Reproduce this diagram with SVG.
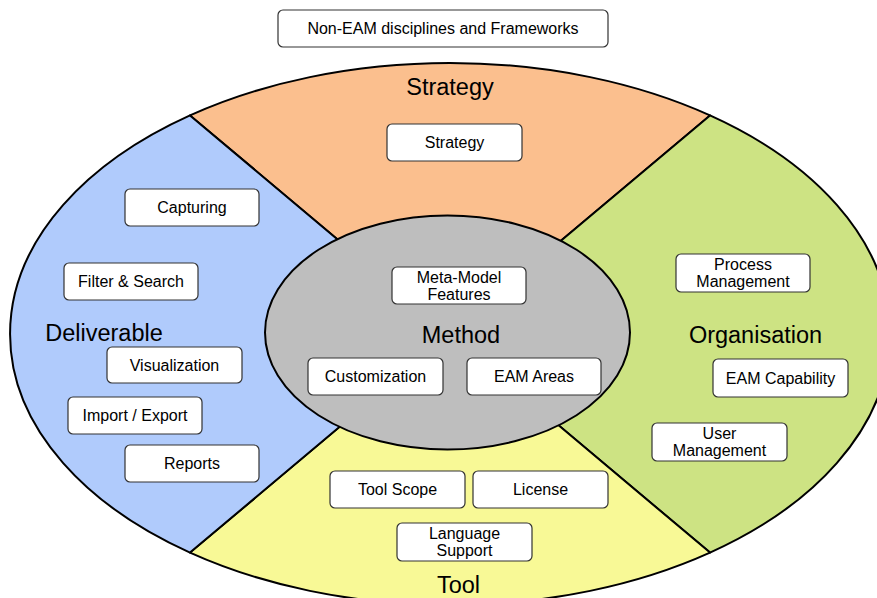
<svg xmlns="http://www.w3.org/2000/svg" width="877" height="598" viewBox="0 0 877 598">
<style>
.seg{stroke:#000;stroke-width:2;stroke-linejoin:round}
.box rect{fill:#fff;stroke:#333;stroke-width:1.2}
.box text{font-family:"Liberation Sans",Arial,sans-serif;font-size:16px;fill:#000;text-anchor:middle}
.big{font-family:"Liberation Sans",Arial,sans-serif;font-size:23.5px;fill:#000;text-anchor:middle}
</style>
<rect width="877" height="598" fill="#fff"/>
<g id="rings">
<path class="seg" fill="#FBBF8E" d="M190,115.4 A440,271 0 0 1 710,115.4 L450,334 Z"/>
<path class="seg" fill="#CDE383" d="M710,115.4 A440,271 0 0 1 710,552.6 L450,334 Z"/>
<path class="seg" fill="#F8F996" d="M710,552.6 A440,271 0 0 1 190,552.6 L450,334 Z"/>
<path class="seg" fill="#B0CBFC" d="M190,552.6 A440,271 0 0 1 190,115.4 L450,334 Z"/>
<ellipse class="seg" fill="#BEBEBE" cx="447.5" cy="332.5" rx="182.5" ry="117"/>
</g>
<g id="labels">
<text class="big" x="450" y="95">Strategy</text>
<text class="big" x="104" y="341">Deliverable</text>
<text class="big" x="461" y="343">Method</text>
<text class="big" x="755.5" y="343">Organisation</text>
<text class="big" x="458.5" y="593">Tool</text>
</g>
<g id="non-eam" class="box"><rect x="278" y="10" width="330" height="37" rx="5"/><text x="443" y="34">Non-EAM disciplines and Frameworks</text></g>
<g id="strategy" class="box"><rect x="387" y="124" width="135" height="37" rx="5"/><text x="454.5" y="148">Strategy</text></g>
<g id="capturing" class="box"><rect x="125" y="189" width="134" height="37" rx="5"/><text x="192" y="213">Capturing</text></g>
<g id="filter-search" class="box"><rect x="64" y="263" width="134" height="37" rx="5"/><text x="131" y="287">Filter &amp; Search</text></g>
<g id="visualization" class="box"><rect x="107" y="347" width="135" height="36" rx="5"/><text x="174.5" y="370.5">Visualization</text></g>
<g id="import-export" class="box"><rect x="68" y="397" width="134" height="37" rx="5"/><text x="135" y="421">Import / Export</text></g>
<g id="reports" class="box"><rect x="125" y="445" width="134" height="37" rx="5"/><text x="192" y="469">Reports</text></g>
<g id="meta-model" class="box"><rect x="392" y="267" width="134" height="37" rx="5"/><text x="459" y="283">Meta-Model</text><text x="459" y="300">Features</text></g>
<g id="customization" class="box"><rect x="308" y="358" width="135" height="37" rx="5"/><text x="375.5" y="382">Customization</text></g>
<g id="eam-areas" class="box"><rect x="467" y="358" width="134" height="37" rx="5"/><text x="534" y="382">EAM Areas</text></g>
<g id="process-management" class="box"><rect x="676" y="254" width="134" height="38" rx="5"/><text x="743" y="270">Process</text><text x="743" y="287">Management</text></g>
<g id="eam-capability" class="box"><rect x="713" y="359" width="135" height="38" rx="5"/><text x="780.5" y="383.5">EAM Capability</text></g>
<g id="user-management" class="box"><rect x="652" y="423" width="135" height="38" rx="5"/><text x="719.5" y="439">User</text><text x="719.5" y="456">Management</text></g>
<g id="tool-scope" class="box"><rect x="330" y="471" width="135" height="37" rx="5"/><text x="397.5" y="495">Tool Scope</text></g>
<g id="license" class="box"><rect x="473" y="471" width="135" height="37" rx="5"/><text x="540.5" y="495">License</text></g>
<g id="language-support" class="box"><rect x="397" y="523" width="135" height="38" rx="5"/><text x="464.5" y="539">Language</text><text x="464.5" y="556">Support</text></g>
<g id="connectors"></g>
</svg>
